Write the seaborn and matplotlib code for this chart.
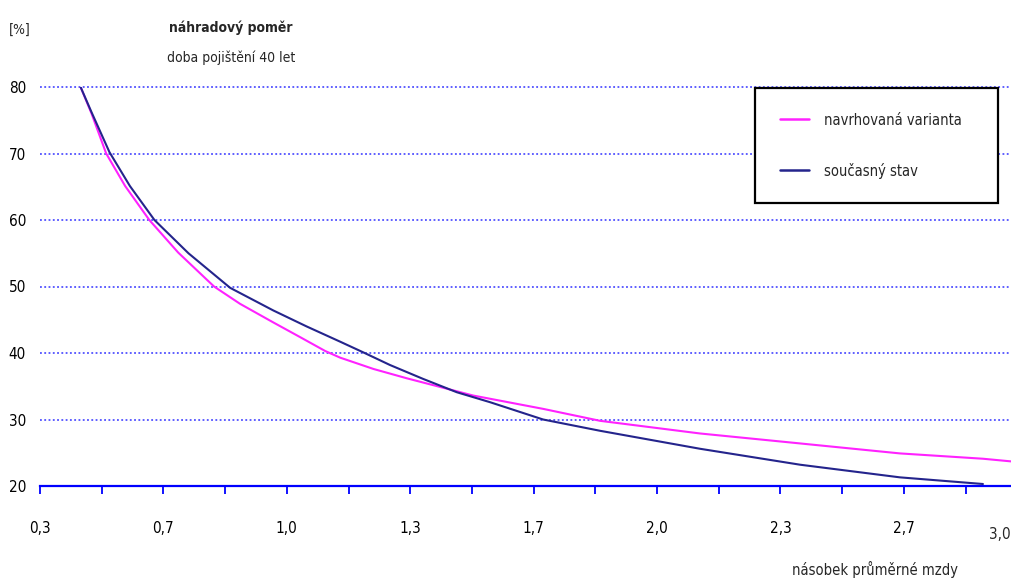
import numpy as np
import pandas as pd
import matplotlib
matplotlib.use("Agg")
import matplotlib.pyplot as plt
import seaborn as sns
from matplotlib.lines import Line2D
from matplotlib import font_manager

# ---- data ----
x_proposed = [0.411, 0.441, 0.481, 0.533, 0.599, 0.678, 0.776, 0.847, 0.938,
              1.011, 1.080, 1.121, 1.212, 1.303, 1.394, 1.485, 1.676, 1.832,
              2.105, 2.379, 2.652, 2.879, 2.956]
y_proposed = [80.0, 76.0, 70.0, 65.1, 60.0, 55.1, 50.0, 47.4, 44.6,
              42.4, 40.3, 39.3, 37.6, 36.2, 34.9, 33.6, 31.6, 29.8,
              27.9, 26.4, 24.9, 24.1, 23.7]
x_current = [0.411, 0.441, 0.490, 0.546, 0.613, 0.706, 0.820, 0.938, 1.029,
             1.121, 1.184, 1.257, 1.348, 1.440, 1.531, 1.676, 1.832, 2.105,
             2.379, 2.652, 2.879]
y_current = [80.0, 76.2, 70.2, 65.1, 60.0, 55.0, 49.8, 46.4, 44.0,
             41.7, 40.1, 38.2, 36.1, 34.1, 32.6, 30.0, 28.3, 25.6,
             23.2, 21.3, 20.3]
series_names = ["navrhovaná varianta", "současný stav"]
xtick_labels = ["0,3", "0,7", "1,0", "1,3", "1,7", "2,0", "2,3", "2,7", "3,0"]
ytick_values = [20, 30, 40, 50, 60, 70, 80]

df = pd.concat([
    pd.DataFrame({"x": x_proposed, "y": y_proposed, "serie": series_names[0]}),
    pd.DataFrame({"x": x_current, "y": y_current, "serie": series_names[1]}),
], ignore_index=True)

sns.set_style("white")

# prefer a narrow / condensed sans face if one is installed
narrow = None
for key in ["liberationsansnarrow-regular", "dejavusanscondensed.ttf",
            "robotocondensed-regular", "opensans_condensed", "notosans-condensed"]:
    for f in font_manager.fontManager.ttflist:
        if key in f.fname.lower().replace(" ", "").replace("_", "-") or \
           key in f.fname.lower():
            narrow = f
            break
    if narrow is not None:
        break
if narrow is not None:
    FONT = [narrow.name, "DejaVu Sans"]
    plt.rcParams["font.stretch"] = narrow.stretch
    FS = 11.0
    FS_T = 10.0
else:
    FONT = ["Liberation Sans", "DejaVu Sans"]
    FS = 10.5
    FS_T = 9.5
plt.rcParams["font.family"] = FONT

fig = plt.figure(figsize=(10.11, 5.79), dpi=100)
ax = fig.add_axes([40 / 1011, 1 - 486 / 579, 971 / 1011, 399 / 579])

colors = {series_names[0]: "#ff22ff", series_names[1]: "#24248c"}
sns.lineplot(data=df, x="x", y="y", hue="serie", palette=colors, ax=ax,
             linewidth=1.5, legend=False, sort=True, zorder=3)

x0, x1 = 0.3, 3.0
step = (x1 - x0) / 16
xmax = x0 + 971 / 61.7 * step
ax.set_xlim(x0, xmax)
ax.set_ylim(20, 80)

major = [x0 + 2 * k * step for k in range(8)]
minor = [x0 + (2 * k + 1) * step for k in range(8)]
ax.set_xticks(major)
ax.set_xticklabels(xtick_labels[:-1])
ax.set_xticks(minor, minor=True)
ax.tick_params(axis="x", which="both", direction="out", length=6, width=1.3,
               color="#0000ff", bottom=True)
ax.tick_params(axis="x", which="major", pad=19, labelsize=FS, labelcolor="black")
ax.text(1.0, -0.103, xtick_labels[-1], transform=ax.transAxes, ha="right",
        va="top", fontsize=FS)

ax.set_yticks(ytick_values)
ax.set_yticklabels([str(v) for v in ytick_values])
ax.tick_params(axis="y", length=0, pad=10, labelsize=FS, labelcolor="black")

for v in ytick_values[1:]:
    ax.axhline(v, color="#3333ff", linestyle=(0, (1.2, 1.6)), linewidth=1.1,
               zorder=0.5, clip_on=False)

for s in ["left", "right", "top"]:
    ax.spines[s].set_visible(False)
ax.spines["bottom"].set_color("#0000ff")
ax.spines["bottom"].set_linewidth(1.6)

ax.set_xlabel("")
ax.set_ylabel("")

fig.text(0.009, 1 - 30 / 579, "[%]", fontsize=FS_T, va="center", ha="left")
fig.text(231 / 1011, 1 - 28 / 579, "náhradový poměr", fontsize=FS_T,
         fontweight="bold", ha="center", va="center")
fig.text(231 / 1011, 1 - 58 / 579, "doba pojištění 40 let", fontsize=FS_T,
         ha="center", va="center")
fig.text(875 / 1011, 1 - 569 / 579, "násobek průměrné mzdy", fontsize=FS_T + 0.5,
         ha="center", va="center")

handles = [Line2D([0], [0], color=colors[n], linewidth=1.8) for n in series_names]
leg = ax.legend(handles, series_names, loc="upper left", mode="expand",
                bbox_to_anchor=(715 / 971, 0.998, 243 / 971, 0.0),
                fontsize=FS_T + 0.5, frameon=True,
                fancybox=False, borderpad=1.7, labelspacing=2.4,
                handlelength=2.0, handletextpad=1.0, borderaxespad=0)
leg.get_frame().set_edgecolor("black")
leg.get_frame().set_linewidth(1.6)
leg.get_frame().set_facecolor("white")
leg.get_frame().set_alpha(1)
leg.set_zorder(5)

fig.savefig("out.png", dpi=100)
